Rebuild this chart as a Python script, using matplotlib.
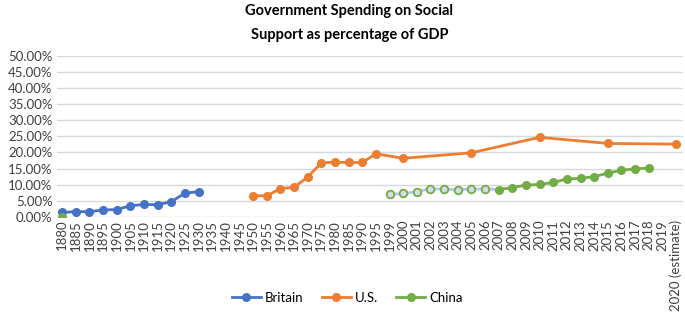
import numpy as np
import matplotlib
matplotlib.use("Agg")
import matplotlib.pyplot as plt
from matplotlib.ticker import PercentFormatter

plt.rcParams['font.family'] = ['Lato', 'DejaVu Sans']

# ------------------ DATA ------------------
years = [str(y) for y in range(1880, 1996, 5)] + ["1999"] + \
        [str(y) for y in range(2000, 2020)] + ["2020 (estimate)"]

britain_years = ["1880", "1885", "1890", "1895", "1900", "1905", "1910",
                 "1915", "1920", "1925", "1930"]
britain_vals = [1.45, 1.65, 1.65, 2.2, 2.3, 3.5, 3.9, 3.8, 4.75, 7.4, 7.85]

us_years = ["1950", "1955", "1960", "1965", "1970", "1975", "1980", "1985",
            "1990", "1995", "2000", "2005", "2010", "2015", "2020 (estimate)"]
us_vals = [6.6, 6.6, 8.8, 9.2, 12.4, 16.8, 17.0, 16.9, 16.9, 19.6, 18.2,
           19.9, 24.7, 22.8, 22.6]

china_years = ["1880", "1999", "2000", "2001", "2002", "2003", "2004", "2005",
               "2006", "2007", "2008", "2009", "2010", "2011", "2012", "2013",
               "2014", "2015", "2016", "2017", "2018"]
china_vals = [0.0, 7.0, 7.3, 7.85, 8.8, 8.6, 8.5, 8.6, 8.8, 8.5, 9.1, 9.9,
              10.1, 10.7, 11.8, 12.0, 12.5, 13.6, 14.5, 14.9, 15.2]
china_est_years = ["1999", "2000", "2001", "2002", "2003", "2004", "2005", "2006"]


def pos(yrs):
    return np.array([years.index(y) for y in yrs])


blue, orange, green = "#4472C4", "#ED7D31", "#70AD47"

# ------------------ PLOT ------------------
fig = plt.figure(figsize=(6.85, 3.19), dpi=100)
ax = fig.add_axes([0.0828, 0.3197, 0.914, 0.5057])

ax.plot(pos(britain_years), np.array(britain_vals) / 100, color=blue, lw=2,
        marker="o", ms=5.5, label="Britain")
ax.plot(pos(us_years), np.array(us_vals) / 100, color=orange, lw=2,
        marker="o", ms=5.5, label="U.S.")

cx = pos(china_years)
cy = np.array(china_vals) / 100
ne = len(china_est_years)
# lone 1880 point, then the estimated part (light line, hollow markers), then the rest
ax.plot(cx[:1], cy[:1], color=green, lw=2, marker="o", ms=5.5, label="China")
ax.plot(cx[1:ne + 2], cy[1:ne + 2], color="#B4C7E7", lw=2, zorder=3)
ax.plot(cx[1:ne + 1], cy[1:ne + 1], ls="none", marker="o", ms=5.5,
        mfc="#D6DCE5", mec=green, mew=1.3, zorder=4)
ax.plot(cx[ne + 1:], cy[ne + 1:], color=green, lw=2, marker="o", ms=5.5, zorder=5)

ax.set_ylim(0, 0.5)
ax.set_yticks(np.arange(0, 0.501, 0.05))
ax.yaxis.set_major_formatter(PercentFormatter(1.0, decimals=2))
ax.set_xlim(-0.4, 45.5)
ax.set_xticks(np.arange(len(years)))
ax.set_xticklabels(years, rotation=90)
ax.tick_params(length=0, labelsize=9.5, colors="#404040", pad=2)
ax.tick_params(axis="y", pad=3)
ax.grid(axis="y", color="#D9D9D9", lw=1)
ax.set_axisbelow(True)
for s in ax.spines.values():
    s.set_visible(False)

fig.text(0.51, 0.965, "Government Spending on Social", ha="center", va="center",
         fontsize=10.5, fontweight="bold")
fig.text(0.51, 0.89, "Support as percentage of GDP", ha="center", va="center",
         fontsize=10.5, fontweight="bold")

fig.legend(*ax.get_legend_handles_labels(), loc="center", bbox_to_anchor=(0.507, 0.066),
           ncol=3, frameon=False, fontsize=9.5, handlelength=2.2, columnspacing=1.4,
           handletextpad=0.3)

fig.savefig("out.png", dpi=100)
